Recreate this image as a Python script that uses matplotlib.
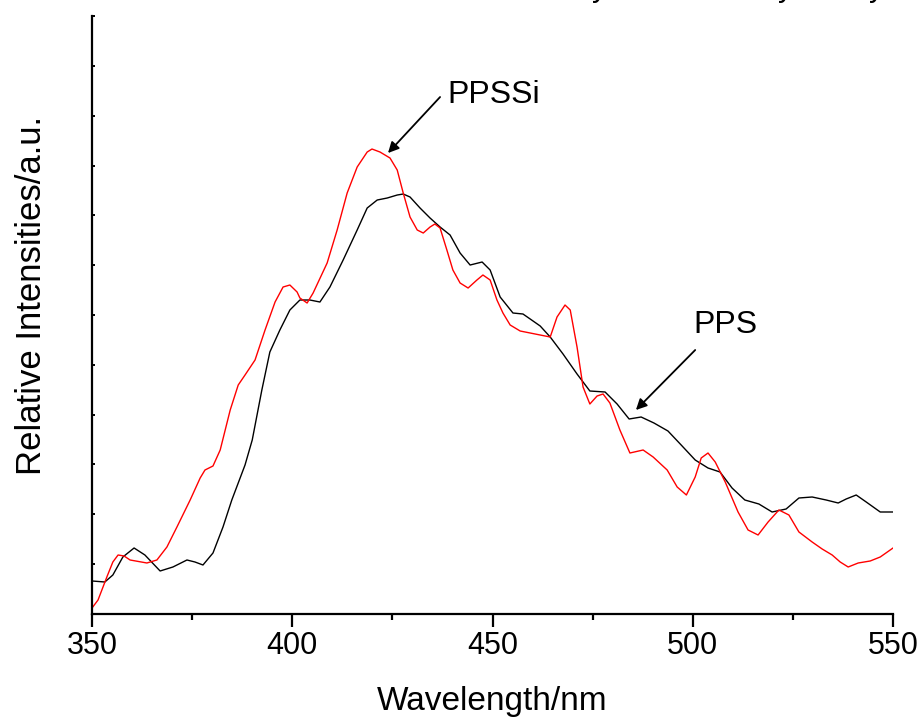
import matplotlib
matplotlib.use("Agg")
import numpy as np
import matplotlib.pyplot as plt
from matplotlib.ticker import MultipleLocator

# ───────────────────────────────────────────────────────────────────────
# Daten
# ───────────────────────────────────────────────────────────────────────
pps_nm = [350.0, 353.2, 355.2, 357.7, 360.5, 363.2, 367.0, 370.2, 373.7, 375.7,
          377.7, 380.2, 382.7, 384.9, 388.2, 390.0, 392.4, 394.4, 396.9, 399.4,
          401.9, 404.4, 406.9, 409.4, 412.7, 416.2, 418.7, 421.2, 423.7, 426.2,
          427.7, 429.4, 431.9, 434.4, 436.9, 439.4, 441.9, 444.4, 447.4, 449.4,
          451.9, 455.1, 457.6, 459.4, 461.9, 464.4, 467.6, 471.1, 474.3, 478.1,
          481.1, 484.1, 487.1, 490.3, 493.8, 497.1, 500.6, 503.8, 506.8, 509.8,
          513.0, 516.5, 519.8, 523.3, 526.5, 529.8, 533.3, 536.3, 538.3, 540.8,
          543.3, 546.8, 550.0]
pps_int = [33, 32, 39, 57, 66, 59, 43, 47, 54, 52,
           49, 61, 87, 114, 149, 174, 224, 262, 284, 304,
           314, 314, 312, 327, 354, 384, 406, 414, 416, 419,
           420, 417, 406, 396, 387, 379, 361, 349, 352, 344,
           317, 301, 300, 295, 288, 277, 260, 240, 223, 222,
           210, 195, 197, 191, 183, 169, 154, 146, 142, 126,
           114, 110, 102, 105, 116, 117, 114, 111, 115, 119,
           112, 102, 102]

ppssi_nm = [350.0, 351.5, 353.7, 355.2, 356.5, 358.0, 359.5, 363.7, 366.2, 368.7,
            371.2, 374.5, 377.0, 378.2, 380.2, 382.0, 384.5, 386.5, 388.2, 390.7,
            393.2, 395.7, 397.7, 399.4, 401.2, 401.9, 403.7, 405.2, 408.7, 411.2,
            413.7, 416.2, 418.7, 419.9, 421.9, 424.4, 426.2, 427.7, 429.4, 431.2,
            432.7, 434.4, 435.6, 436.9, 438.6, 440.1, 441.9, 443.9, 446.1, 447.6,
            449.4, 451.1, 452.6, 454.4, 456.9, 459.4, 461.9, 464.4, 466.1, 468.1,
            469.4, 471.1, 472.6, 474.3, 476.1, 477.6, 479.3, 481.8, 484.3, 487.6,
            490.1, 493.6, 496.1, 498.4, 500.6, 502.1, 503.8, 505.6, 508.1, 511.3,
            513.8, 516.3, 518.8, 521.5, 524.0, 526.5, 529.8, 532.3, 534.8, 536.8,
            538.8, 541.3, 544.3, 546.8, 550.0]
ppssi_int = [6, 14, 37, 52, 59, 58, 54, 51, 54, 67,
             87, 114, 136, 144, 148, 164, 204, 229, 239, 254,
             284, 312, 327, 329, 322, 316, 311, 321, 351, 384,
             421, 447, 462, 465, 462, 456, 444, 421, 397, 384,
             381, 387, 390, 386, 364, 344, 331, 326, 334, 339,
             334, 314, 301, 289, 283, 281, 279, 277, 297, 309,
             304, 267, 227, 210, 218, 220, 211, 184, 161, 164,
             157, 144, 127, 119, 137, 156, 161, 152, 132, 102,
             84, 79, 92, 104, 99, 82, 72, 65, 59, 52,
             47, 51, 53, 57, 66]

x_ticks = [350, 400, 450, 500, 550]
y_top = 598

plt.rcParams["font.family"] = ["Liberation Sans", "DejaVu Sans"]

# ───────────────────────────────────────────────────────────────────────
# Plot
# ───────────────────────────────────────────────────────────────────────
fig = plt.figure(figsize=(9.24, 7.22), dpi=100)
ax = fig.add_axes([0.0996, 0.1496, 0.8669, 0.8282])

ax.plot(pps_nm, pps_int, color="black", lw=1.0, solid_joinstyle="round")
ax.plot(ppssi_nm, ppssi_int, color="red", lw=1.0, solid_joinstyle="round")

ax.set_xlim(350, 550)
ax.set_ylim(0, y_top)
ax.set_xticks(x_ticks)
ax.xaxis.set_minor_locator(MultipleLocator(25))
ax.set_yticks(np.linspace(0, y_top, 13))
ax.set_yticklabels([])

for side in ["top", "right"]:
    ax.spines[side].set_visible(False)
for side in ["left", "bottom"]:
    ax.spines[side].set_linewidth(1.6)

ax.tick_params(axis="x", which="major", direction="out", length=9,
               width=1.6, labelsize=22, pad=3)
ax.tick_params(axis="x", which="minor", direction="out", length=4, width=1.6)
ax.tick_params(axis="y", which="major", direction="in", length=2.5, width=1.4)

ax.set_xlabel("Wavelength/nm", fontsize=24, labelpad=18)
ax.set_ylabel("Relative Intensities/a.u.", fontsize=25)
ax.yaxis.set_label_coords(-0.055, 0.533)

# Beschriftungen mit Pfeilen
arrow = dict(arrowstyle="-|>", color="black", lw=1.3,
             mutation_scale=16, shrinkA=0, shrinkB=0)
ax.annotate("", xy=(423.9, 461), xytext=(436.9, 517), arrowprops=arrow)
ax.text(438.6, 519, "PPSSi", fontsize=23, ha="left", va="center")
ax.annotate("", xy=(485.8, 204), xytext=(500.6, 264), arrowprops=arrow)
ax.text(500.1, 289, "PPS", fontsize=23, ha="left", va="center")

# abgeschnittener Text am oberen Rand (wie in der Vorlage)
for xf in [0.649, 0.850, 0.949]:
    fig.text(xf, 1 + 4 / 722, "y", fontsize=22, ha="center", va="baseline")

fig.savefig("out.png", dpi=100)
